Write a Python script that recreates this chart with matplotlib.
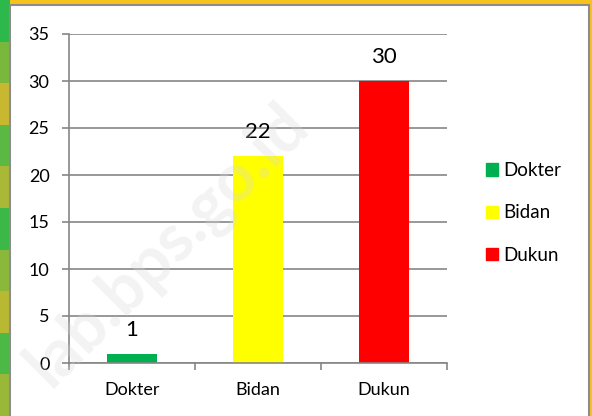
import numpy as np
import matplotlib.pyplot as plt
from matplotlib.patches import Rectangle

plt.rcParams['font.family'] = ['Lato', 'DejaVu Sans']

# Data
categories = ['Dokter', 'Bidan', 'Dukun']
values = [1, 22, 30]
colors = ['#00b050', '#ffff00', '#ff0000']
yticks = [0, 5, 10, 15, 20, 25, 30, 35]

fig = plt.figure(figsize=(5.92, 4.16), dpi=100)
fig.patch.set_facecolor('#f8c21c')

# left greenish strip of the slide background
grad = np.array([[0.0], [0.5], [1.0], [0.3], [0.8], [0.1], [0.6], [0.9], [0.2], [0.7]])
bg = fig.add_axes([0, 0, 10 / 592, 1], zorder=-2)
bg.imshow(grad, aspect='auto', cmap=plt.cm.colors.LinearSegmentedColormap.from_list(
    'g', ['#2db84b', '#c8b830']), extent=[0, 1, 0, 1])
bg.axis('off')

# white chart area with gray frame
frame = Rectangle((10 / 592, -0.01), 579 / 592, 1 - 5 / 416 + 0.01,
                  transform=fig.transFigure, facecolor='white',
                  edgecolor='#8c8c8c', linewidth=1.5, zorder=-1)
fig.patches.append(frame)

ax = fig.add_axes([69 / 592, 53 / 416, 378 / 592, 329 / 416])
ax.set_facecolor('none')
x = np.arange(len(categories))
bars = ax.bar(x, values, width=0.4, color=colors, zorder=2)

for xi, v in zip(x, values):
    ax.annotate(str(v), (xi, v), xytext=(0, 13), textcoords='offset points',
                ha='center', va='baseline', fontsize=16, color='black')

ax.set_xlim(-0.5, 2.5)
ax.set_ylim(0, 35)
ax.set_yticks(yticks)
ax.yaxis.grid(True, color='#868686', linewidth=1.2, zorder=0)
ax.set_axisbelow(True)

ax.set_xticks(x)
ax.set_xticklabels(categories)
ax.set_xticks([-0.5, 0.5, 1.5, 2.5], minor=True)
ax.tick_params(axis='x', which='major', length=0, pad=14, labelsize=13)
ax.tick_params(axis='x', which='minor', length=5, color='#868686', width=1.2)
ax.tick_params(axis='y', length=5, color='#868686', width=1.2, labelsize=13, pad=9)

for s in ['top', 'right']:
    ax.spines[s].set_visible(False)
ax.spines['left'].set_color('#868686')
ax.spines['bottom'].set_color('#868686')
ax.spines['left'].set_linewidth(1.2)
ax.spines['bottom'].set_linewidth(1.2)

# legend
handles = [Rectangle((0, 0), 1, 1, color=c) for c in colors]
fig.legend(handles, categories, loc='center left', bbox_to_anchor=(469 / 592, 1 - 213 / 416),
           frameon=False, fontsize=13.5, handlelength=0.65, handleheight=0.65,
           handletextpad=0.3, labelspacing=1.35)

# watermark
fig.text(168 / 592, 1 - 245 / 416, 'lab.bps.go.id', rotation=45, fontsize=48,
         fontweight='bold', color='#d8d8d8', alpha=0.3, ha='center', va='center',
         zorder=10)

fig.savefig('out.png', dpi=100, facecolor=fig.get_facecolor())
